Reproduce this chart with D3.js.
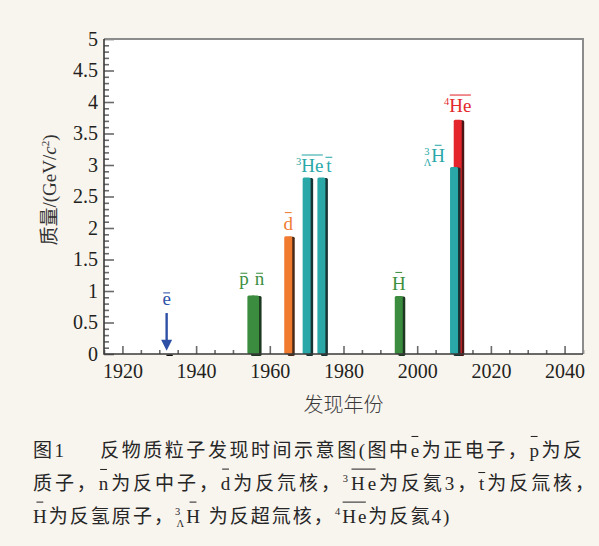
<!DOCTYPE html>
<html>
<head>
<meta charset="utf-8">
<script src="https://cdn.jsdelivr.net/npm/d3@7"></script>
<style>
html, body { margin: 0; padding: 0; background: #f8f4ee; }
svg { display: block; }
</style>
</head>
<body>
<svg id="chart" width="599" height="546"></svg>
<script>
// ---- data ----
var particles = ["e", "p", "n", "d", "He3", "t", "H", "HL3", "He4"];
var years     = [1932, 1955, 1956, 1965, 1970, 1974, 1995, 2010, 2011];
var masses    = [0.0005, 0.93, 0.93, 1.87, 2.80, 2.80, 0.92, 2.97, 3.72];
var groups    = ["lepton", "nucleon", "nucleon", "A2", "A3", "A3", "atom", "A3", "A4"];

var yMajorTicks  = [0, 0.5, 1, 1.5, 2, 2.5, 3, 3.5, 4, 4.5, 5];
var yTickLabels  = ["0", "0.5", "1", "1.5", "2", "2.5", "3", "3.5", "4", "4.5", "5"];
var xMajorTicks  = [1920, 1940, 1960, 1980, 2000, 2020, 2040];
var xTickLabels  = ["1920", "1940", "1960", "1980", "2000", "2020", "2040"];

// positron arrow (mass units, top -> tip)
var arrowSpan = [0.65, 0.05];

// label text pieces (bar: overline type)
var labelSegs = {
    e:   [{t: "e", bar: "x"}],
    p:   [{t: "p", bar: "x"}],
    n:   [{t: "n", bar: "x"}],
    d:   [{t: "d", bar: "a"}],
    He3: [{t: "3", sup: true}, {t: "He", bar: "a"}],
    t:   [{t: "t", bar: "t"}],
    H:   [{t: "H", bar: "a"}],
    HL3: [{t: "3", sup: true}, {t: "\u039b", sub: true, back: 0.3}, {t: "H", bar: "a"}],
    He4: [{t: "4", sup: true}, {t: "He", bar: "a"}]
};

var captionLines = [
    [{t: "图1\u3000\u2002反物质粒子发现时间示意图(图中"}, {t: "e", bar: "x"}, {t: "为正电子，"}, {t: "p", bar: "x"}, {t: "为反"}],
    [{t: "质子，"}, {t: "n", bar: "x"}, {t: "为反中子，"}, {t: "d", bar: "a"}, {t: "为反氘核，"},
     {t: "3", sup: true}, {t: "He", bar: "a"}, {t: "为反氦3，"}, {t: "t", bar: "t"}, {t: "为反氚核，"}],
    [{t: "H", bar: "a"}, {t: "为反氢原子，"}, {t: "3", sup: true}, {t: "\u039b", sub: true, back: 0.3},
     {t: "H", bar: "a"}, {t: " 为反超氚核，"}, {t: "4", sup: true}, {t: "He", bar: "a"}, {t: "为反氦4)"}]
];

// ---- layout ----
var svg = d3.select("#chart");
var plot = { left: 104, right: 583, top: 39, bottom: 354 };

var x = d3.scaleLinear().domain([1915, 2045]).range([plot.left, plot.right]);
var y = d3.scaleLinear().domain([0, 5]).range([plot.bottom, plot.top]);

var fill = {
    lepton:  { main: "#2d50a6", dark: "#111111", text: "#2d52a8" },
    nucleon: { main: "#3b8c3e", dark: "#1d3820", text: "#3d8f3f" },
    atom:    { main: "#3b8c3e", dark: "#1d3820", text: "#3d8f3f" },
    A2:      { main: "#f07a2e", dark: "#4a2a18", text: "#ef7b31" },
    A3:      { main: "#2aa8a7", dark: "#173434", text: "#2aa8a8" },
    A4:      { main: "#e4252b", dark: "#4d1416", text: "#e3292c" }
};

var serif = "Liberation Serif, DejaVu Serif, serif";
var cjk   = "Liberation Serif, Noto Sans CJK SC, sans-serif";

// plot background
svg.append("rect")
    .attr("x", plot.left).attr("y", plot.top)
    .attr("width", plot.right - plot.left).attr("height", plot.bottom - plot.top)
    .attr("fill", "#ffffff");

// rich text helper: sub/superscripts, justified lines and drawn overlines
function rich(parent, segs, opt) {
    var fs = opt.fs;
    var t = parent.append("text")
        .attr("x", opt.x).attr("y", opt.y)
        .attr("text-anchor", opt.anchor || "start")
        .attr("fill", opt.color)
        .attr("font-family", opt.font || serif)
        .attr("font-size", fs);
    var cur = 0, nodes = [];
    segs.forEach(function(s) {
        var ts = t.append("tspan").text(s.t);
        var sh = s.sup ? -0.40 : (s.sub ? 0.20 : 0);
        var d = (sh - cur) * fs;
        if (d !== 0) ts.attr("dy", d);
        cur = sh;
        if (s.sup || s.sub) ts.attr("font-size", fs * 0.55);
        if (s.back) ts.attr("dx", -s.back * fs);
        nodes.push(ts.node());
    });

    // justify: place every character explicitly
    if (opt.length) {
        var natural = t.node().getComputedTextLength();
        var nch = t.node().getNumberOfChars();
        var ls = (opt.length - natural) / (nch - 1);
        var k = 0;
        var xs = nodes.map(function(node) {
            var n = node.getNumberOfChars(), arr = [];
            for (var j = 0; j < n; j++) arr.push((node.getExtentOfChar(j).x + (k + j) * ls).toFixed(2));
            k += n;
            return arr;
        });
        nodes.forEach(function(node, i) {
            d3.select(node).attr("dx", null).attr("x", xs[i].join(" "));
        });
    }

    var hMap = opt.barH || { x: 0.64, a: 0.90, t: 0.78 };
    segs.forEach(function(s, i) {
        if (!s.bar) return;
        var node = nodes[i], n = node.getNumberOfChars();
        var e0 = node.getExtentOfChar(0), e1 = node.getExtentOfChar(n - 1);
        var x0 = e0.x, x1 = e1.x + e1.width;
        if (n === 1) {
            var c = (x0 + x1) / 2, w = 0.36 * fs;
            x0 = c - w / 2; x1 = c + w / 2;
        } else {
            x0 += 0.5; x1 -= 0.5;
        }
        var yy = opt.y - hMap[s.bar] * fs;
        parent.append("line")
            .attr("x1", x0).attr("x2", x1).attr("y1", yy).attr("y2", yy)
            .attr("stroke", opt.color).attr("stroke-width", Math.max(1, fs * 0.055));
    });
    return t;
}

// ---- axes ----
var yMinor = d3.range(0, 51).map(function(i) { return i / 10; })
    .filter(function(v) { return Math.round(v * 10) % 5 !== 0; });
var xMinor = d3.range(1915, 2046, 5).filter(function(v) { return v % 20 !== 0; });

var yMinorG = svg.append("g")
    .attr("transform", "translate(" + plot.left + ",0)")
    .call(d3.axisLeft(y).tickValues(yMinor).tickSize(-5).tickFormat(""));
var yAxisG = svg.append("g")
    .attr("transform", "translate(" + plot.left + ",0)")
    .call(d3.axisLeft(y).tickValues(yMajorTicks).tickSize(-10).tickPadding(6)
        .tickFormat(function(d, i) { return yTickLabels[i]; }));

var xMinorG = svg.append("g")
    .attr("transform", "translate(0," + plot.bottom + ")")
    .call(d3.axisBottom(x).tickValues(xMinor).tickSize(-4).tickFormat(""));
var xAxisG = svg.append("g")
    .attr("transform", "translate(0," + plot.bottom + ")")
    .call(d3.axisBottom(x).tickValues(xMajorTicks).tickSize(-8).tickPadding(10)
        .tickFormat(function(d, i) { return xTickLabels[i]; }));

[yMinorG, yAxisG, xMinorG, xAxisG].forEach(function(g) {
    g.select(".domain").remove();
    g.attr("font-family", serif).attr("font-size", 20);
    g.selectAll("line").attr("stroke", "#6a6a6a").attr("stroke-width", 1.6);
    g.selectAll("text").attr("fill", "#231f20");
});

// ---- bars (dark shadow behind, coloured face in front) ----
var bw = 8, shadowOff = 3.5;
var order = d3.range(particles.length).sort(function(a, b) { return masses[b] - masses[a]; });
var barsG = svg.append("g");
order.forEach(function(i) {
    var c = fill[groups[i]], cx = x(years[i]);
    barsG.append("rect")
        .attr("x", cx - bw / 2 + shadowOff).attr("y", y(masses[i]) + 0.5)
        .attr("width", bw - 1).attr("height", y(0) - y(masses[i]) + 1.5)
        .attr("rx", 1.5).attr("fill", c.dark);
    if (groups[i] === "lepton") return;
    barsG.append("rect")
        .attr("x", cx - bw / 2).attr("y", y(masses[i]))
        .attr("width", bw).attr("height", y(0) - y(masses[i]))
        .attr("rx", 1.5).attr("fill", c.main);
});

// frame: top/right grey, left/bottom dark
svg.append("path")
    .attr("d", "M" + plot.left + "," + plot.top + "H" + plot.right + "V" + plot.bottom)
    .attr("fill", "none").attr("stroke", "#8c8c8c").attr("stroke-width", 2);
svg.append("path")
    .attr("d", "M" + plot.left + "," + plot.top + "V" + plot.bottom + "H" + plot.right)
    .attr("fill", "none").attr("stroke", "#3a3a3a").attr("stroke-width", 1.6);

// positron arrow
var eIdx = particles.indexOf("e");
var ax = x(years[eIdx]), aTop = y(arrowSpan[0]), aTip = y(arrowSpan[1]);
svg.append("line")
    .attr("x1", ax).attr("x2", ax).attr("y1", aTop).attr("y2", aTip - 9)
    .attr("stroke", fill.lepton.main).attr("stroke-width", 2.4);
svg.append("path")
    .attr("d", "M" + (ax - 5.5) + "," + (aTip - 11) + "L" + (ax + 5.5) + "," + (aTip - 11) + "L" + ax + "," + aTip + "Z")
    .attr("fill", fill.lepton.main);

// ---- particle labels ----
var labelNudge = {
    e:   { dx: 0,   dy: -8,  anchor: "middle" },
    p:   { dx: -7.5, dy: -10, anchor: "middle" },
    n:   { dx: 4.5,  dy: -10, anchor: "middle" },
    d:   { dx: 0,   dy: -6.5, anchor: "middle" },
    He3: { dx: 3,   dy: -5.5, anchor: "middle" },
    t:   { dx: 7.5, dy: -5.5, anchor: "middle" },
    H:   { dx: 0,   dy: -6.5, anchor: "middle" },
    HL3: { dx: -9,  dy: -4.5, anchor: "end" },
    He4: { dx: 0,   dy: -7.5, anchor: "middle" }
};
var labelsG = svg.append("g");
particles.forEach(function(p, i) {
    var nud = labelNudge[p];
    var top = p === "e" ? aTop : y(masses[i]);
    rich(labelsG, labelSegs[p], {
        x: x(years[i]) + nud.dx, y: top + nud.dy, anchor: nud.anchor,
        fs: 19, color: fill[groups[i]].text
    });
});

// ---- axis titles ----
svg.append("text")
    .attr("x", (plot.left + plot.right) / 2).attr("y", 412)
    .attr("text-anchor", "middle")
    .attr("fill", "#3a3a3a")
    .attr("font-family", "Noto Sans CJK SC, sans-serif")
    .attr("font-weight", 300)
    .attr("font-size", 20)
    .text("发现年份");

var yTitle = svg.append("text")
    .attr("transform", "translate(56,190) rotate(-90)")
    .attr("text-anchor", "middle")
    .attr("fill", "#333333")
    .attr("font-family", cjk)
    .attr("font-size", 19);
yTitle.append("tspan").attr("font-family", "Noto Sans CJK SC, sans-serif").text("质量");
yTitle.append("tspan").text("/(GeV/");
yTitle.append("tspan").attr("font-style", "italic").text("c");
yTitle.append("tspan").attr("dy", -7).attr("font-size", 11).text("2");
yTitle.append("tspan").attr("dy", 7).text(")");

// ---- caption ----
var capG = svg.append("g");
var capBase = [457, 490, 523];
var capLen  = [549, 561, 422];
captionLines.forEach(function(segs, i) {
    rich(capG, segs, {
        x: 33, y: capBase[i], fs: 19, color: "#262626", font: cjk,
        length: capLen[i], barH: { x: 1.08, a: 1.10, t: 0.92 }
    });
});
</script>
</body>
</html>
